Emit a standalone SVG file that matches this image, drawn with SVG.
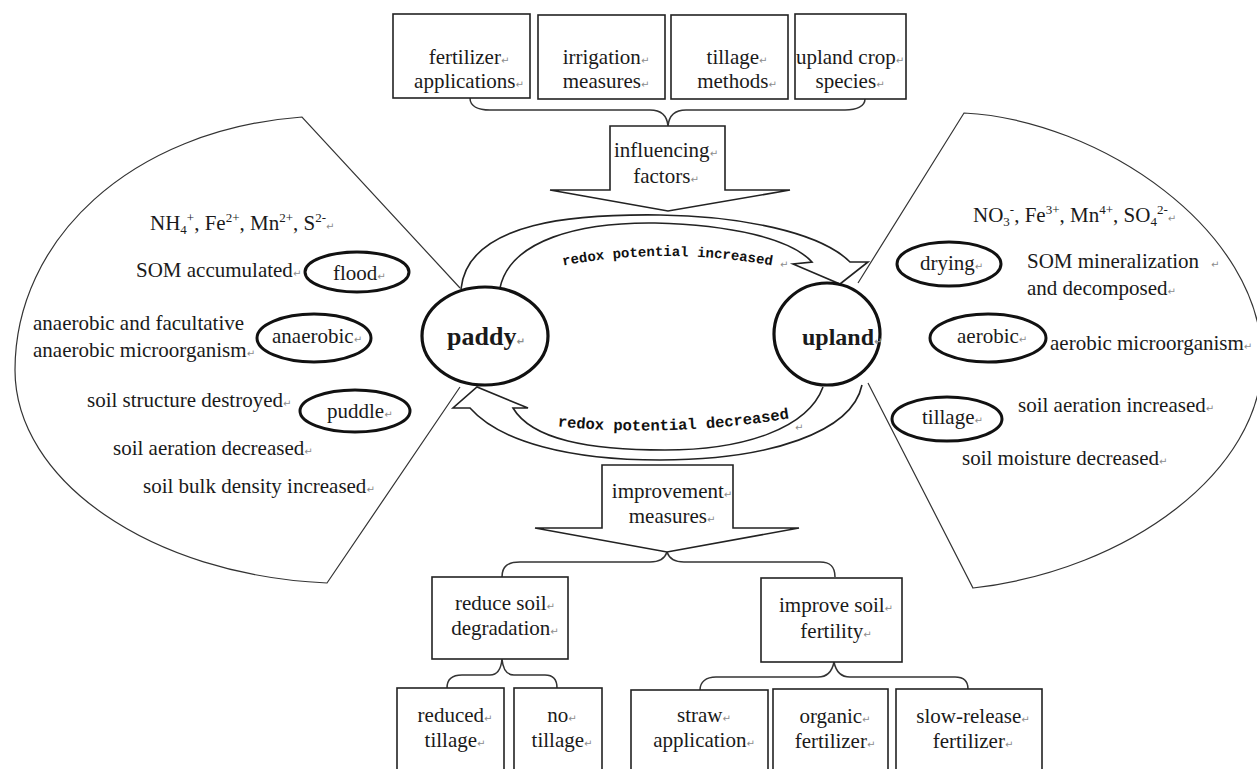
<svg xmlns="http://www.w3.org/2000/svg" width="1257" height="769" viewBox="0 0 1257 769">
<defs>
<style>
.t{font-family:"Liberation Serif","Times New Roman",serif;font-size:21px;fill:#1a1a1a}
.c{text-anchor:middle}
.pm{font-family:"DejaVu Sans",sans-serif;font-size:10px;fill:#8c8c8c}
.box{fill:#fff;stroke:#222;stroke-width:1.6}
.ov{fill:#fff;stroke:#111;stroke-width:3}
.big{fill:#fff;stroke:#111;stroke-width:3.2}
.leaf{fill:none;stroke:#333;stroke-width:1.2}
.cyc{fill:none;stroke:#222;stroke-width:1.6;stroke-linejoin:miter}
.brace{fill:none;stroke:#333;stroke-width:1.5}
.arr{fill:#fff;stroke:#222;stroke-width:1.6}
.mono{font-family:"Liberation Mono","Courier New",monospace;font-weight:bold;fill:#111}
.bold{font-weight:bold}
.s{font-size:13px}
</style>
<path id="tp1" d="M 560 266 Q 667 246 775 266"/>
<path id="tp2" d="M 555 426 Q 670 438 792 418"/>
</defs>
<rect width="1257" height="769" fill="#fff"/>

<g id="connectors">
  <path class="brace" d="M 470 98 C 470 106 478 110 490 110 L 650 110 C 661 110 667 115 668 126 C 669 115 675 110 686 110 L 845 110 C 857 110 865 106 865 99"/>
  <path class="brace" d="M 502 577 C 502 566 508 562 520 562 L 650 562 C 660 562 665 558 667 552 C 669 558 674 562 684 562 L 820 562 C 830 562 835 566 835 577"/>
  <path class="brace" d="M 447 688 C 447 680 452 675 462 675 L 490 675 C 497 675 501 670 502 659 C 503 670 507 675 514 675 L 545 675 C 553 675 557 680 557 688"/>
  <path class="brace" d="M 700 690 C 700 682 706 677 716 677 L 818 677 C 827 677 832 672 834 662 C 836 672 841 677 850 677 L 955 677 C 964 677 968 682 968 689"/>
  <path id="cycle-up" class="cyc" d="M 461 289 C 468 220 580 214 660 215 C 740 216 820 232 850 262 L 868 262 L 840 284 L 793 264 L 812 262 C 790 238 730 225 655 223 C 580 222 510 240 500 288"/>
  <path id="cycle-down" class="cyc" d="M 862 385 C 852 432 770 460 660 460 C 570 460 500 442 470 408 L 453 408 L 477 387 L 528 408 L 513 408 C 532 440 590 450 665 450 C 745 450 808 428 823 387"/>
</g>

<g id="left-region">
  <path class="leaf" d="M 460 288 L 302 117 C 130 130 15 240 15 370 C 15 480 150 575 327 583 L 460 387"/>
  <text class="t" x="150" y="230">NH<tspan class="s" dy="4">4</tspan><tspan class="s" dy="-12">+</tspan><tspan dy="8">, Fe</tspan><tspan class="s" dy="-8">2+</tspan><tspan dy="8">, Mn</tspan><tspan class="s" dy="-8">2+</tspan><tspan dy="8">, S</tspan><tspan class="s" dy="-8">2-</tspan><tspan class="pm" dy="8">↵</tspan></text>
  <text class="t" x="136" y="277">SOM accumulated<tspan class="pm">↵</tspan></text>
  <text class="t" x="33" y="330">anaerobic and facultative</text>
  <text class="t" x="33" y="357">anaerobic microorganism<tspan class="pm">↵</tspan></text>
  <text class="t" x="87" y="407">soil structure destroyed<tspan class="pm">↵</tspan></text>
  <text class="t" x="113" y="455">soil aeration decreased<tspan class="pm">↵</tspan></text>
  <text class="t" x="143" y="493">soil bulk density increased<tspan class="pm">↵</tspan></text>
</g>
<g id="node-flood"><ellipse class="ov" cx="357" cy="272" rx="52" ry="20"/><text class="t" x="333" y="280">flood<tspan class="pm">↵</tspan></text></g>
<g id="node-anaerobic"><ellipse class="ov" cx="314" cy="338" rx="57" ry="24"/><text class="t" x="272" y="343">anaerobic<tspan class="pm">↵</tspan></text></g>
<g id="node-puddle"><ellipse class="ov" cx="355" cy="411" rx="55" ry="21"/><text class="t" x="327" y="418">puddle<tspan class="pm">↵</tspan></text></g>

<g id="right-region">
  <path class="leaf" d="M 858 283 L 964 113 C 1100 120 1262 230 1262 360 C 1262 470 1130 570 973 588 L 868 383"/>
  <text class="t" x="973" y="222">NO<tspan class="s" dy="4">3</tspan><tspan class="s" dy="-12">-</tspan><tspan dy="8">, Fe</tspan><tspan class="s" dy="-8">3+</tspan><tspan dy="8">, Mn</tspan><tspan class="s" dy="-8">4+</tspan><tspan dy="8">, SO</tspan><tspan class="s" dy="4">4</tspan><tspan class="s" dy="-12">2-</tspan><tspan class="pm" dy="8">↵</tspan></text>
  <text class="t" x="1027" y="268">SOM mineralization<tspan class="pm" x="1211">↵</tspan></text>
  <text class="t" x="1027" y="295">and decomposed<tspan class="pm">↵</tspan></text>
  <text class="t" x="1050" y="350">aerobic microorganism<tspan class="pm">↵</tspan></text>
  <text class="t" x="1018" y="412">soil aeration increased<tspan class="pm">↵</tspan></text>
  <text class="t" x="962" y="465">soil moisture decreased<tspan class="pm">↵</tspan></text>
</g>
<g id="node-drying"><ellipse class="ov" cx="949" cy="264" rx="52" ry="22"/><text class="t" x="920" y="270">drying<tspan class="pm">↵</tspan></text></g>
<g id="node-aerobic"><ellipse class="ov" cx="988" cy="338" rx="58" ry="24"/><text class="t" x="957" y="343">aerobic<tspan class="pm">↵</tspan></text></g>
<g id="node-tillage"><ellipse class="ov" cx="947" cy="419" rx="55" ry="22"/><text class="t" x="922" y="424">tillage<tspan class="pm">↵</tspan></text></g>

<g id="cycle-labels">
  <text class="mono" font-size="14"><textPath href="#tp1" startOffset="50%" text-anchor="middle">redox potential increased</textPath></text>
  <text class="pm" x="780" y="268">↵</text>
  <text class="mono" font-size="15.5"><textPath href="#tp2" startOffset="50%" text-anchor="middle">redox potential decreased</textPath></text>
  <text class="pm" x="795" y="431">↵</text>
</g>

<g id="node-paddy"><ellipse class="big" cx="485" cy="336" rx="63" ry="49"/><text class="t bold" x="447" y="345" style="font-size:26px">paddy<tspan class="pm">↵</tspan></text></g>
<g id="node-upland"><ellipse class="big" cx="827" cy="334" rx="53" ry="51"/><text class="t bold" x="802" y="345" style="font-size:24px">upland<tspan class="pm">↵</tspan></text></g>

<g id="box-fertilizer-applications"><rect class="box" x="393" y="14" width="137" height="84"/><text class="t c" x="469" y="64">fertilizer<tspan class="pm">↵</tspan></text><text class="t c" x="469" y="88">applications<tspan class="pm">↵</tspan></text></g>
<g id="box-irrigation"><rect class="box" x="538" y="15" width="127" height="84"/><text class="t c" x="606" y="64">irrigation<tspan class="pm">↵</tspan></text><text class="t c" x="606" y="88">measures<tspan class="pm">↵</tspan></text></g>
<g id="box-tillage-methods"><rect class="box" x="671" y="15" width="117" height="84"/><text class="t c" x="737" y="64">tillage<tspan class="pm">↵</tspan></text><text class="t c" x="737" y="88">methods<tspan class="pm">↵</tspan></text></g>
<g id="box-upland-crop"><rect class="box" x="795" y="14" width="111" height="85"/><text class="t c" x="850" y="64">upland crop<tspan class="pm">↵</tspan></text><text class="t c" x="850" y="88">species<tspan class="pm">↵</tspan></text></g>

<g id="arrow-influencing"><path class="arr" d="M 610 126 L 725 126 L 725 190 L 790 190 L 668 211 L 550 190 L 610 190 Z"/><text class="t c" x="666" y="157">influencing<tspan class="pm">↵</tspan></text><text class="t c" x="666" y="183">factors<tspan class="pm">↵</tspan></text></g>

<g id="arrow-improvement"><path class="arr" d="M 602 465 L 733 465 L 733 528 L 799 528 L 667 552 L 535 528 L 602 528 Z"/><text class="t c" x="672" y="498">improvement<tspan class="pm">↵</tspan></text><text class="t c" x="672" y="523">measures<tspan class="pm">↵</tspan></text></g>

<g id="box-reduce"><rect class="box" x="432" y="577" width="136" height="82"/><text class="t c" x="505" y="610">reduce soil<tspan class="pm">↵</tspan></text><text class="t c" x="505" y="635">degradation<tspan class="pm">↵</tspan></text></g>
<g id="box-improve"><rect class="box" x="761" y="578" width="141" height="84"/><text class="t c" x="836" y="612">improve soil<tspan class="pm">↵</tspan></text><text class="t c" x="836" y="638">fertility<tspan class="pm">↵</tspan></text></g>

<g id="box-reduced-tillage"><rect class="box" x="397" y="688" width="107" height="100"/><text class="t c" x="455" y="722">reduced<tspan class="pm">↵</tspan></text><text class="t c" x="455" y="747">tillage<tspan class="pm">↵</tspan></text></g>
<g id="box-no-tillage"><rect class="box" x="514" y="688" width="88" height="100"/><text class="t c" x="562" y="722">no<tspan class="pm">↵</tspan></text><text class="t c" x="562" y="747">tillage<tspan class="pm">↵</tspan></text></g>
<g id="box-straw"><rect class="box" x="631" y="690" width="137" height="100"/><text class="t c" x="704" y="722">straw<tspan class="pm">↵</tspan></text><text class="t c" x="704" y="747">application<tspan class="pm">↵</tspan></text></g>
<g id="box-organic"><rect class="box" x="773" y="689" width="115" height="100"/><text class="t c" x="835" y="723">organic<tspan class="pm">↵</tspan></text><text class="t c" x="835" y="748">fertilizer<tspan class="pm">↵</tspan></text></g>
<g id="box-slow-release"><rect class="box" x="896" y="689" width="146" height="100"/><text class="t c" x="973" y="723">slow-release<tspan class="pm">↵</tspan></text><text class="t c" x="973" y="748">fertilizer<tspan class="pm">↵</tspan></text></g>
</svg>
